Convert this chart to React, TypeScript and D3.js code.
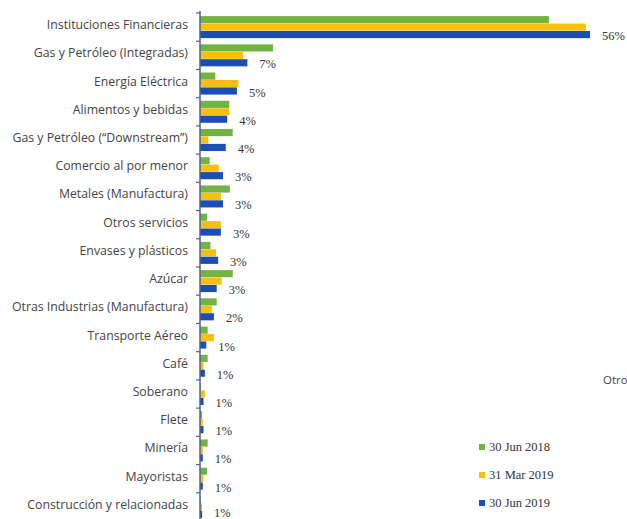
import React from "react";
import * as d3 from "d3";

const categories = [
  "Instituciones Financieras",
  "Gas y Petróleo (Integradas)",
  "Energía Eléctrica",
  "Alimentos y bebidas",
  "Gas y Petróleo (“Downstream”)",
  "Comercio al por menor",
  "Metales (Manufactura)",
  "Otros servicios",
  "Envases y plásticos",
  "Azúcar",
  "Otras Industrias (Manufactura)",
  "Transporte Aéreo",
  "Café",
  "Soberano",
  "Flete",
  "Minería",
  "Mayoristas",
  "Construcción y relacionadas",
];

const jun2018 = [50.1, 10.5, 2.2, 4.2, 4.7, 1.4, 4.3, 1.0, 1.5, 4.7, 2.4, 1.1, 1.1, 0.1, 0.3, 1.1, 1.0, 0.1];
const mar2019 = [55.4, 6.2, 5.5, 4.2, 1.2, 2.7, 3.0, 3.0, 2.3, 3.1, 1.7, 2.0, 0.5, 0.7, 0.4, 0.4, 0.5, 0.3];
const jun2019 = [56.0, 6.8, 5.3, 3.9, 3.7, 3.3, 3.3, 3.0, 2.6, 2.4, 2.0, 0.9, 0.7, 0.5, 0.5, 0.4, 0.4, 0.3];
const valueLabels = ["56%", "7%", "5%", "4%", "4%", "3%", "3%", "3%", "3%", "3%", "2%", "1%", "1%", "1%", "1%", "1%", "1%", "1%"];

const seriesNames = ["30 Jun 2018", "31 Mar 2019", "30 Jun 2019"];
const seriesColors = ["#72b443", "#f8c00c", "#1b4db3"];

const W = 627;
const H = 519;

export default function App() {
  const x = d3.scaleLinear().domain([0, 60]).range([200, 200 + 60 * 6.964]);
  const y = d3.scaleBand<string>().domain(categories).range([13, 521]).paddingInner(0.22).paddingOuter(0.11);
  const sub = d3.scaleBand<number>().domain([0, 1, 2]).range([0, y.bandwidth()]).paddingInner(0.04);
  const series = [jun2018, mar2019, jun2019];
  const step = y.step();
  const boundaries = d3.range(categories.length + 1).map((i) => 13 + i * step);

  return (
    <svg width={W} height={H} style={{ position: "absolute", left: 0, top: 0, background: "#fff" }}>
      <rect x={0} y={0} width={W} height={H} fill="#fff" />
      {categories.map((c, i) => (
        <g key={c}>
          {series.map((s, k) => (
            <rect
              key={k}
              x={x(0)}
              y={(y(c) as number) + (sub(k) as number)}
              width={Math.max(0, x(s[i]) - x(0))}
              height={sub.bandwidth()}
              fill={seriesColors[k]}
            />
          ))}
          <text
            x={188}
            y={(y(c) as number) + y.bandwidth() / 2 + 2}
            textAnchor="end"
            fontFamily="Open Sans"
            fontSize={12.3}
            fill="#444"
          >
            {c}
          </text>
          <text
            x={x(jun2019[i]) + 12}
            y={Math.min((y(c) as number) + y.bandwidth() + 2, H - 2)}
            fontFamily="Liberation Serif"
            fontSize={12.5}
            fill="#333"
          >
            {valueLabels[i]}
          </text>
        </g>
      ))}
      <line x1={x(0)} x2={x(0)} y1={11} y2={H} stroke="#4d6396" strokeWidth={1.5} />
      {boundaries.map((b, i) => (
        <line key={i} x1={x(0) - 4} x2={x(0)} y1={b} y2={b} stroke="#4d6396" strokeWidth={1.2} />
      ))}
      <text x={603} y={384} fontFamily="Open Sans" fontSize={11.5} fill="#444">
        Otros
      </text>
      {seriesNames.map((n, k) => (
        <g key={n}>
          <rect x={479} y={444 + k * 28} width={6} height={6} fill={seriesColors[k]} />
          <text x={489} y={451 + k * 28} fontFamily="Liberation Serif" fontSize={12.5} fill="#333">
            {n}
          </text>
        </g>
      ))}
    </svg>
  );
}
